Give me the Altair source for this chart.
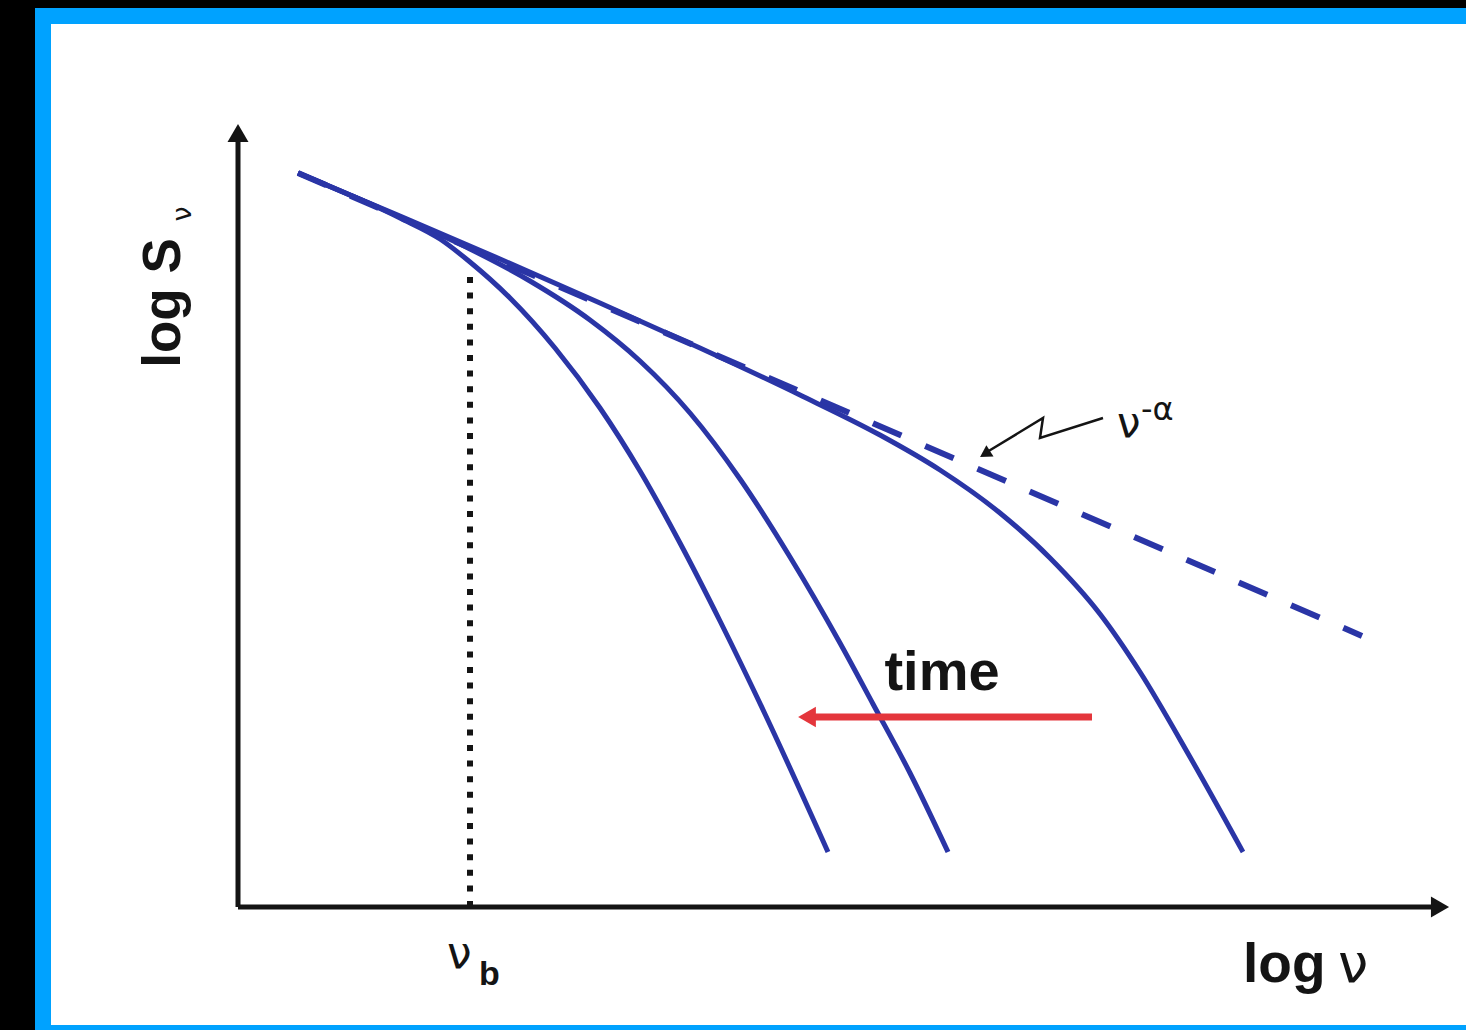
import altair as alt
import pandas as pd

# --- spectral data (log nu, log S_nu) ---
# three spectra at successive times; the break moves to lower frequency
nu_early = [0.60, 1.62, 2.62, 3.62, 4.62, 5.62, 6.42, 7.02, 7.62, 8.12, 8.62, 9.02, 9.52, 10.05]
S_early = [7.34, 6.91, 6.48, 6.04, 5.59, 5.12, 4.72, 4.37, 3.94, 3.49, 2.93, 2.35, 1.50, 0.55]

nu_mid = [0.60, 1.62, 2.32, 2.92, 3.52, 4.02, 4.52, 5.02, 5.52, 6.02, 6.35, 6.72, 7.10]
S_mid = [7.34, 6.90, 6.58, 6.26, 5.87, 5.46, 4.94, 4.28, 3.50, 2.64, 2.03, 1.34, 0.55]

nu_late = [0.60, 1.62, 2.02, 2.32, 2.72, 3.17, 3.62, 4.02, 4.42, 4.82, 5.27, 5.90]
S_late = [7.34, 6.89, 6.68, 6.45, 6.09, 5.59, 4.99, 4.36, 3.64, 2.86, 1.93, 0.55]

# unbroken power law nu^-alpha
nu_pl = [0.60, 11.24]
S_pl = [7.34, 2.71]

# break frequency nu_b
nu_break = 2.32
S_break_top = 6.32

# axis extents
x_axis_end = 12.0
y_axis_end = 7.72

# "time" arrow
time_arrow_nu = [8.54, 5.67]
time_arrow_S = 1.90

# pointer from the nu^-alpha label to the power law
pointer_nu = [8.65, 8.02, 8.05, 7.49]
pointer_S = [4.89, 4.69, 4.89, 4.55]

BLUE = "#2a35a6"
INK = "#141414"
RED = "#e4363c"
FONT = "Liberation Sans"
GREEK = "DejaVu Sans"

xs = alt.Scale(domain=[-2.38, 12.28], nice=False, zero=False)
ys = alt.Scale(domain=[-1.23, 9.07], nice=False, zero=False)


def X(field="nu"):
    return alt.X(f"{field}:Q", scale=xs, axis=None)


def Y(field="S"):
    return alt.Y(f"{field}:Q", scale=ys, axis=None)


one = pd.DataFrame({"k": [0]})

# slide frame: blue border around a white panel
frame_blue = alt.Chart(one).mark_rect(color="#00a2ff").encode(
    x=alt.value(35), x2=alt.value(1466), y=alt.value(8), y2=alt.value(1030)
)
frame_white = alt.Chart(one).mark_rect(color="#ffffff").encode(
    x=alt.value(51), x2=alt.value(1466), y=alt.value(24), y2=alt.value(1025)
)

# curves
rows = []
for name, nus, ss in [("early", nu_early, S_early), ("mid", nu_mid, S_mid), ("late", nu_late, S_late)]:
    for i, (a, b) in enumerate(zip(nus, ss)):
        rows.append({"curve": name, "i": i, "nu": a, "S": b})
curves_df = pd.DataFrame(rows)

power_law = alt.Chart(pd.DataFrame({"nu": nu_pl, "S": S_pl, "i": [0, 1]})).mark_line(
    color=BLUE, strokeWidth=6, strokeDash=[31, 26]
).encode(x=X(), y=Y(), order="i:Q")

spectra = alt.Chart(curves_df).mark_line(
    color=BLUE, strokeWidth=5, interpolate="monotone"
).encode(x=X(), y=Y(), detail="curve:N", order="i:Q")

# dotted line at nu_b
break_line = alt.Chart(pd.DataFrame({"nu": [nu_break], "S": [0.0], "S2": [S_break_top]})).mark_rule(
    color=INK, strokeWidth=6, strokeDash=[6, 9.6], strokeCap="butt"
).encode(x=X(), y=Y(), y2="S2:Q")

# axes with arrowheads
x_axis = alt.Chart(pd.DataFrame({"nu": [0.0], "nu2": [x_axis_end], "S": [0.0]})).mark_rule(
    color=INK, strokeWidth=5
).encode(x=X(), x2="nu2:Q", y=Y())
y_axis = alt.Chart(pd.DataFrame({"nu": [0.0], "S": [0.0], "S2": [y_axis_end]})).mark_rule(
    color=INK, strokeWidth=5
).encode(x=X(), y=Y(), y2="S2:Q")
x_head = alt.Chart(pd.DataFrame({"nu": [x_axis_end + 0.02], "S": [0.0]})).mark_point(
    shape="triangle-right", filled=True, color=INK, size=440, opacity=1
).encode(x=X(), y=Y())
y_head = alt.Chart(pd.DataFrame({"nu": [0.0], "S": [y_axis_end + 0.02]})).mark_point(
    shape="triangle-up", filled=True, color=INK, size=440, opacity=1
).encode(x=X(), y=Y())

# red "time" arrow
time_line = alt.Chart(pd.DataFrame({"nu": [time_arrow_nu[0]], "nu2": [time_arrow_nu[1] + 0.1], "S": [time_arrow_S]})).mark_rule(
    color=RED, strokeWidth=7
).encode(x=X(), x2="nu2:Q", y=Y())
time_head = alt.Chart(pd.DataFrame({"nu": [time_arrow_nu[1] + 0.02], "S": [time_arrow_S]})).mark_point(
    shape="triangle-left", filled=True, color=RED, size=420, opacity=1
).encode(x=X(), y=Y())

# zig-zag pointer to the power law
pointer = alt.Chart(pd.DataFrame({"nu": pointer_nu, "S": pointer_S, "i": range(4)})).mark_line(
    color=INK, strokeWidth=2.5
).encode(x=X(), y=Y(), order="i:Q")
pointer_head = alt.Chart(pd.DataFrame({"nu": [pointer_nu[-1] - 0.02], "S": [pointer_S[-1] - 0.02]})).mark_point(
    shape="triangle-right", filled=True, color=INK, size=180, opacity=1, angle=148
).encode(x=X(), y=Y())


def label(text, nu, S, size, weight="normal", align="left", baseline="alphabetic",
          angle=0, color=INK, font=FONT):
    return alt.Chart(pd.DataFrame({"nu": [nu], "S": [S], "t": [text]})).mark_text(
        font=font, fontSize=size, fontWeight=weight, align=align, baseline=baseline,
        angle=angle, color=color
    ).encode(x=X(), y=Y(), text="t:N")


texts = [
    label("time", 7.04, 2.34, 56, "bold", "center", "middle"),
    label("log S", -0.74, 6.04, 53, "bold", "center", "middle", angle=270),
    label("ν", -0.55, 6.93, 27, "normal", "center", "middle", angle=270, font=GREEK),
    label("log", 10.05, -0.75, 55, "bold"),
    label("ν", 11.0, -0.75, 54, "normal", font=GREEK),
    label("ν", 2.09, -0.61, 44, "normal", font=GREEK),
    label("b", 2.41, -0.78, 34, "bold"),
    label("ν", 8.79, 4.70, 42, "normal", font=GREEK),
    label("-α", 9.03, 4.87, 32, "normal", font=GREEK),
]

chart = alt.layer(
    frame_blue, frame_white,
    power_law, spectra, break_line,
    x_axis, y_axis, x_head, y_head,
    time_line, time_head, pointer, pointer_head,
    *texts,
).properties(
    width=1466, height=1030, padding=0,
    autosize=alt.AutoSizeParams(type="none"),
).configure(background="#000000").configure_view(stroke=None)

chart.save("out.html", embed_options={"renderer": "svg", "actions": False})
